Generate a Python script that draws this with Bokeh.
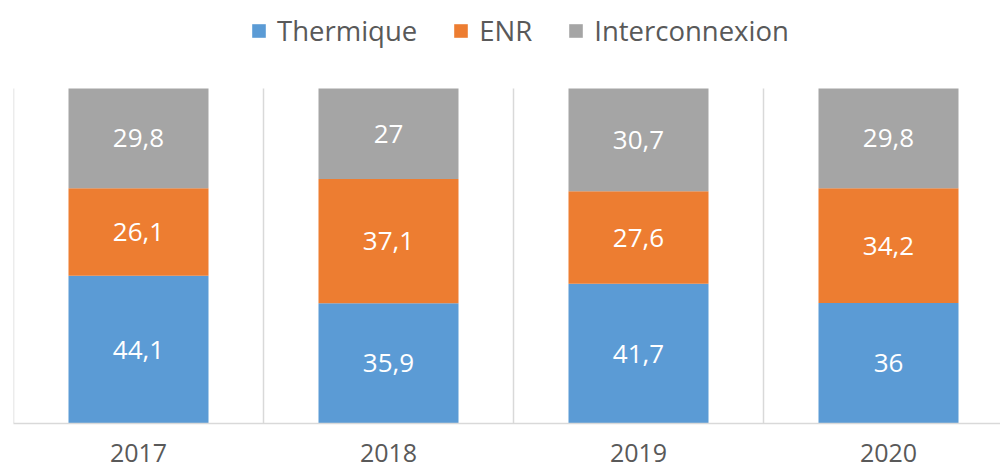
from bokeh.plotting import figure
from bokeh.models import (Range1d, FixedTicker, Legend, LegendItem, ColumnDataSource)
from bokeh.core.properties import value
from bokeh.embed import file_html
from bokeh.resources import INLINE

years = ["2017", "2018", "2019", "2020"]
thermique = [44.1, 35.9, 41.7, 36.0]
enr = [26.1, 37.1, 27.6, 34.2]
interconnexion = [29.8, 27.0, 30.7, 29.8]
series = ["Thermique", "ENR", "Interconnexion"]
colors = ["#5B9BD5", "#ED7D31", "#A5A5A5"]

FONT = "Open Sans"
xs = [i + 0.5 for i in range(len(years))]
bounds = list(range(len(years) + 1))

# layout (pixels): frame from top 0 to 423, 100% level at 88
W, H = 1000, 470
FRAME_BOTTOM, TOP100 = 423, 88
y_end = 100 * FRAME_BOTTOM / (FRAME_BOTTOM - TOP100)

src = ColumnDataSource(dict(x=xs, Thermique=thermique, ENR=enr, Interconnexion=interconnexion))

p = figure(width=W, height=H, output_backend="svg", toolbar_location=None,
           x_range=Range1d(0, 3.948), y_range=Range1d(0, y_end),
           y_axis_location=None, min_border_left=13, min_border_right=0,
           min_border_top=0, min_border_bottom=H - FRAME_BOTTOM)
p.outline_line_color = None
p.background_fill_color = "white"
p.border_fill_color = "white"

# category separators
p.segment(x0=bounds, y0=[0] * len(bounds), x1=bounds, y1=[100] * len(bounds),
          line_color="#D9D9D9", line_width=1.5)

renderers = p.vbar_stack(series, x="x", width=0.56, source=src, color=colors, line_color=None)

# data labels
lx, ly, lt = [], [], []
for i, x in enumerate(xs):
    base = 0.0
    for vals in (thermique, enr, interconnexion):
        v = vals[i]
        lx.append(x)
        ly.append(base + v / 2)
        lt.append(f"{v:g}".replace(".", ","))
        base += v
p.text(x=lx, y=ly, text=lt, text_color="white", text_font=value(FONT),
       text_font_size="26px", text_align="center", text_baseline="middle")

# axes / grid
p.xaxis.ticker = FixedTicker(ticks=xs)
p.xaxis.major_label_overrides = {x: y for x, y in zip(xs, years)}
p.xaxis.major_tick_line_color = None
p.xaxis.minor_tick_line_color = None
p.xaxis.axis_line_color = "#D9D9D9"
p.xaxis.axis_line_width = 1.5
p.xaxis.major_label_text_font = FONT
p.xaxis.major_label_text_font_size = "25px"
p.xaxis.major_label_text_color = "#595959"
p.xaxis.major_label_text_line_height = 0.8
p.xaxis.major_label_standoff = 14
p.xgrid.grid_line_color = None
p.ygrid.grid_line_color = None

legend = Legend(items=[LegendItem(label=s, renderers=[r]) for s, r in zip(series, renderers)],
                orientation="horizontal", location=(237, 374),
                glyph_width=17, glyph_height=17, label_standoff=10, spacing=35,
                padding=0, margin=0, border_line_color=None, background_fill_alpha=0,
                label_text_font=FONT, label_text_font_size="27.5px", label_text_color="#595959")
p.add_layout(legend, "center")

open("out.html", "w").write(file_html(p, INLINE))
